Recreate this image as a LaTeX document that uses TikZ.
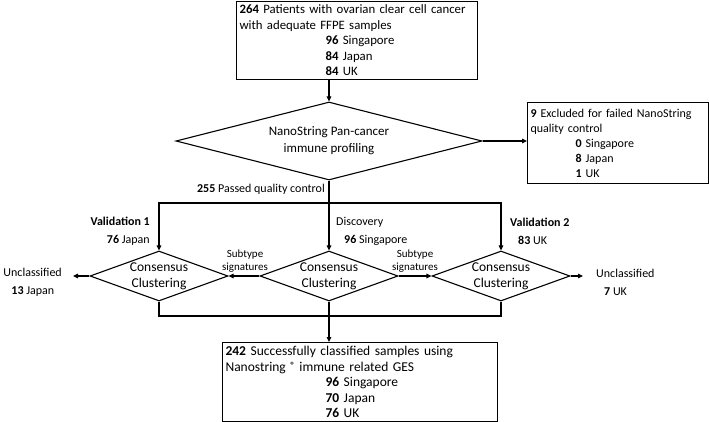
\documentclass[tikz,border=0pt]{standalone}
\usepackage{fontspec}
\setmainfont{Carlito}
\usetikzlibrary{shapes.geometric, calc, arrows.meta, positioning}
\tikzset{basic/.style={draw,line width=1.1pt}}
\tikzset{infobox/.style={basic,rectangle,align=left,inner xsep=3pt,inner ysep=2pt,anchor=north west}}
\tikzset{decision/.style={basic,diamond,align=center}}
\tikzset{lbl/.style={inner sep=1pt}}
\tikzset{link/.style={line width=1.1pt,-{Triangle[length=5pt,width=4.5pt]}}}
\tikzset{plain/.style={line width=1.1pt,-}}

\begin{document}
\begin{tikzpicture}[x=1pt,y=-1pt,font=\fontsize{12}{18}\selectfont]
\useasboundingbox (0,0) rectangle (709,422);

% Define boxes
\node[infobox,text width=235pt,minimum height=78pt,font=\fontsize{12.8}{15.5}\selectfont] at (236,1) (pat) {\mbox{\textbf{264} Patients with ovarian clear cell cancer}\\with adequate FFPE samples\\\hspace*{86pt}\textbf{96} Singapore\\\hspace*{86pt}\textbf{84} Japan\\\hspace*{86pt}\textbf{84} UK};
\node[infobox,text width=175pt,minimum height=81pt,font=\fontsize{12}{15}\selectfont] at (527,102) (excl) {\mbox{\textbf{9} Excluded for failed NanoString}\\quality control\\\hspace*{45pt}\textbf{0} Singapore\\\hspace*{45pt}\textbf{8} Japan\\\hspace*{45pt}\textbf{1} UK};
\node[infobox,text width=269pt,minimum height=79pt,font=\fontsize{13.5}{15.5}\selectfont] at (222,342) (fin) {\mbox{\textbf{242} Successfully classified samples using}\\Nanostring {\fontsize{9}{9}\selectfont\raisebox{3pt}{\textbf{\textregistered}}} immune related GES\\\hspace*{100pt}\textbf{96} Singapore\\\hspace*{100pt}\textbf{70} Japan\\\hspace*{100pt}\textbf{76} UK};

% Define decisions
\node[decision,aspect=3.8,inner sep=0pt,minimum width=306pt,minimum height=78pt,font=\fontsize{13}{17}\selectfont] at (329,141) (nano) {NanoString Pan-cancer\\immune profiling};
\node[decision,aspect=2.9,inner sep=-10pt,minimum width=138pt,minimum height=50pt,font=\fontsize{13.5}{16}\selectfont] at (159,276) (cc1) {Consensus\\Clustering};
\node[decision,aspect=2.9,inner sep=-10pt,minimum width=138pt,minimum height=50pt,font=\fontsize{13.5}{16}\selectfont] at (329,276) (cc2) {Consensus\\Clustering};
\node[decision,aspect=2.9,inner sep=-10pt,minimum width=138pt,minimum height=50pt,font=\fontsize{13.5}{16}\selectfont] at (501,276) (cc3) {Consensus\\Clustering};

% Define labels
\node[lbl,anchor=east] at (326,189) (passed) {\textbf{255} Passed quality control};
\node[lbl,align=right,anchor=east] at (151,231) (val1) {\textbf{Validation 1}\\\textbf{76} Japan};
\node[lbl,align=left,anchor=west] at (335,231) (disc) {Discovery\\\hspace*{8pt}\textbf{96} Singapore};
\node[lbl,align=left,anchor=west] at (509,231) (val2) {\textbf{Validation 2}\\\hspace*{8pt}\textbf{83} UK};
\node[lbl,align=center,font=\fontsize{11}{13}\selectfont] at (245,261) (sub1) {Subtype\\signatures};
\node[lbl,align=center,font=\fontsize{11}{13}\selectfont] at (415,261) (sub2) {Subtype\\signatures};
\node[lbl,align=left,anchor=east] at (63,282) (unc1) {Unclassified\\\hspace*{8pt}\textbf{13} Japan};
\node[lbl,align=left,anchor=west] at (595,282) (unc3) {Unclassified\\\hspace*{8pt}\textbf{7} UK};

% Define joints
\coordinate (split) at (329,203);
\coordinate (merge) at (329,316);

% Define paths
\draw[link] (pat.south -| nano.north) -- (nano.north);
\draw[link] (nano.east) -- (nano.east -| excl.west);
\draw[link] (nano.south) -- (cc2.north);
\draw[link] (split) -| (cc1.north);
\draw[link] (split) -| (cc3.north);
\draw[link] (cc2.west) -- (cc1.east);
\draw[link] (cc2.east) -- (cc3.west);
\draw[link,shorten >=10pt] (cc1.west) -- (cc1.west -| unc1.east);
\draw[link,shorten >=12pt] (cc3.east) -- (cc3.east -| unc3.west);
\draw[plain] (cc1.south) |- (merge -| cc3.south) -- (cc3.south);
\draw[plain] (cc2.south) -- (merge);
\draw[link] (merge) -- (merge |- fin.north);
\end{tikzpicture}
\end{document}
